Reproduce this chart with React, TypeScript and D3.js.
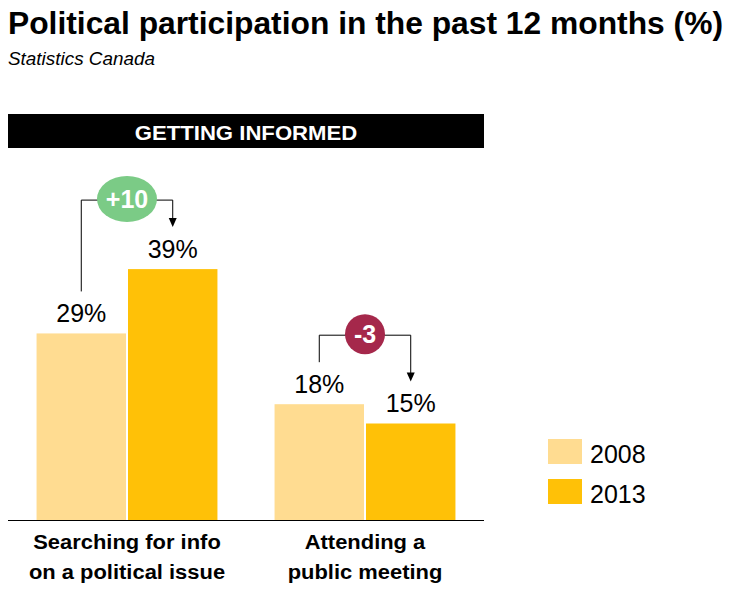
import React from "react";
import * as d3 from "d3";

const categories = ["Searching for info|on a political issue", "Attending a|public meeting"];
const years = ["2008", "2013"];
const values2008 = [29, 18];
const values2013 = [39, 15];
const yearColors = ["#FFDC91", "#FFC107"];
const title = "Political participation in the past 12 months (%)";
const subtitle = "Statistics Canada";
const sectionLabel = "GETTING INFORMED";

const W = 733;
const H = 595;

export default function App() {
  const x0 = d3.scaleBand<string>().domain(categories).range([8, 484]).paddingInner(0.24).paddingOuter(0.12);
  const x1 = d3.scaleBand<string>().domain(years).range([0, x0.bandwidth()]).paddingInner(0.022);
  const y = d3.scaleLinear().domain([0, 60]).range([520, 134]);
  const series = [values2008, values2013];

  const font = "Liberation Sans, Arial, Helvetica, sans-serif";

  return (
    <svg width={W} height={H} style={{ position: "absolute", left: 0, top: 0, display: "block" }} fontFamily={font}>
      <rect x={0} y={0} width={W} height={H} fill="#fff" />
      <text x={8} y={34} fontSize={31.5} fontWeight="bold" textLength={715} lengthAdjust="spacingAndGlyphs" fill="#000">
        {title}
      </text>
      <text x={8} y={65} fontSize={17.5} fontStyle="italic" textLength={147} lengthAdjust="spacingAndGlyphs" fill="#000">
        {subtitle}
      </text>

      <rect x={8} y={114} width={476} height={34} fill="#000" />
      <text transform={`translate(246,139.5) scale(1.08,1)`} textAnchor="middle" fontSize={20.5} fontWeight="bold" fill="#fff">
        {sectionLabel}
      </text>

      {categories.map((cat, ci) => {
        const gx = x0(cat)!;
        const cx = gx + x0.bandwidth() / 2;
        return (
          <g key={cat}>
            {years.map((yr, yi) => {
              const v = series[yi][ci];
              const bx = gx + x1(yr)!;
              return (
                <g key={yr}>
                  <rect x={bx} y={y(v)} width={x1.bandwidth()} height={y(0) - y(v)} fill={yearColors[yi]} />
                  <text x={bx + x1.bandwidth() / 2} y={y(v) - 11.5} textAnchor="middle" fontSize={25} fill="#000">
                    {v}%
                  </text>
                </g>
              );
            })}
            {cat.split("|").map((line, li) => (
              <text key={li} transform={`translate(${cx},${549 + li * 30}) scale(1.07,1)`} textAnchor="middle" fontSize={20.5} fontWeight="bold" fill="#000">
                {line}
              </text>
            ))}
          </g>
        );
      })}

      {categories.map((cat, ci) => {
        const gx = x0(cat)!;
        const cx = gx + x0.bandwidth() / 2;
        const v0 = values2008[ci];
        const v1 = values2013[ci];
        const diff = v1 - v0;
        const label = (diff > 0 ? "+" : "") + diff;
        const lx = gx + x1(years[0])! + x1.bandwidth() / 2;
        const rx = gx + x1(years[1])! + x1.bandwidth() / 2;
        const hy = y(Math.max(v0, v1)) - 69;
        const leftEnd = y(v0) - 42;
        const tip = y(v1) - 42;
        const erx = 10 * label.length;
        const ery = Math.min(erx, 23);
        const col = diff > 0 ? "#7BCB86" : "#A5284B";
        return (
          <g key={"ann" + ci}>
            <path d={`M${lx},${leftEnd}V${hy}H${rx}V${tip - 8}`} fill="none" stroke="#000" strokeWidth={1} />
            <path d={`M${rx - 4},${tip - 9}L${rx + 4},${tip - 9}L${rx},${tip}Z`} fill="#000" />
            <ellipse cx={cx} cy={hy - 1} rx={erx} ry={ery} fill={col} />
            <text x={cx} y={hy + 7.5} textAnchor="middle" fontSize={25} fontWeight="bold" fill="#fff">
              {label}
            </text>
          </g>
        );
      })}

      <line x1={8} x2={484} y1={y(0) + 0.5} y2={y(0) + 0.5} stroke="#000" strokeWidth={1} />

      {years.map((yr, i) => (
        <g key={yr}>
          <rect x={548} y={439 + i * 40} width={34} height={25} fill={yearColors[i]} />
          <text x={590} y={463 + i * 40} fontSize={25} fill="#000">
            {yr}
          </text>
        </g>
      ))}
    </svg>
  );
}
